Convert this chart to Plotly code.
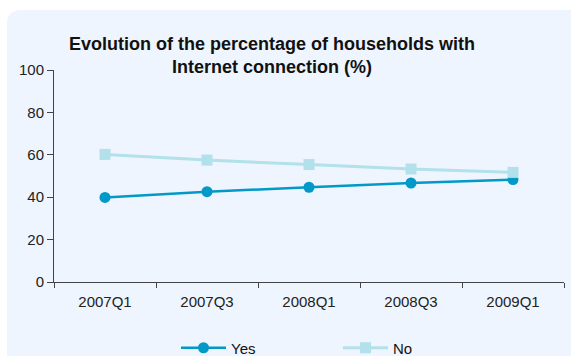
import plotly.graph_objects as go

quarters = ["2007Q1", "2007Q3", "2008Q1", "2008Q3", "2009Q1"]
yes_share = [39.9, 42.6, 44.7, 46.7, 48.3]
no_share = [60.2, 57.5, 55.4, 53.3, 51.7]
y_ticks = [0, 20, 40, 60, 80, 100]

W, H = 571, 356
L, R, T, B = 54, 7, 70, 74
pw, ph = W - L - R, H - T - B


def px(x):
    return (x - L) / pw


def py(y):
    return (H - B - y) / ph


# rounded light-blue panel behind the whole chart
x0, y0, rad = 7, 10, 14
x1, y1 = W + 5, H + 5
panel = (
    f"M {px(x0)},{py(y1)} L {px(x0)},{py(y0 + rad)} "
    f"Q {px(x0)},{py(y0)} {px(x0 + rad)},{py(y0)} "
    f"L {px(x1)},{py(y0)} L {px(x1)},{py(y1)} Z"
)

fig = go.Figure()
fig.add_trace(go.Scatter(
    x=quarters, y=yes_share, name="Yes", mode="lines+markers",
    line=dict(color="#0099C8", width=2.5),
    marker=dict(symbol="circle", size=11, color="#0099C8"),
))
fig.add_trace(go.Scatter(
    x=quarters, y=no_share, name="No", mode="lines+markers",
    line=dict(color="#B2E0EB", width=3),
    marker=dict(symbol="square", size=11, color="#B2E0EB"),
))

fig.update_layout(
    width=W, height=H,
    margin=dict(l=L, r=R, t=T, b=B, pad=0, autoexpand=False),
    paper_bgcolor="white",
    plot_bgcolor="rgba(0,0,0,0)",
    font=dict(family="Liberation Sans, Arial, sans-serif", size=15, color="#222222"),
    shapes=[dict(type="path", xref="paper", yref="paper", path=panel,
                 fillcolor="#EEF5FE", line=dict(width=0), layer="below")],
    annotations=[dict(
        text="<b>Evolution of the percentage of households with<br>Internet connection (%)</b>",
        xref="paper", yref="paper", x=px(272), y=py(56), xanchor="center", yanchor="middle",
        showarrow=False, font=dict(size=18, color="#111111"),
    )],
    showlegend=True,
    legend=dict(
        orientation="h", xref="container", yref="container",
        x=176 / W, y=(H - 348) / H, xanchor="left", yanchor="middle",
        bgcolor="rgba(0,0,0,0)", font=dict(size=15, color="#111111"),
        entrywidth=102, entrywidthmode="pixels", itemwidth=45,
    ),
    xaxis=dict(
        type="category", showgrid=False, showline=True, linecolor="#444444", linewidth=1,
        ticks="outside", ticklen=5, tickcolor="#444444", tickson="boundaries",
        ticklabelstandoff=6,
        range=[-0.5, 4.5], tickfont=dict(size=15, color="#222222"),
    ),
    yaxis=dict(
        range=[0, 100], tickvals=y_ticks, showgrid=False, zeroline=False,
        showline=True, linecolor="#444444", linewidth=1,
        ticks="outside", ticklen=6, tickcolor="#444444",
        tickfont=dict(size=15, color="#222222"),
    ),
)

fig.write_html("out.html")
